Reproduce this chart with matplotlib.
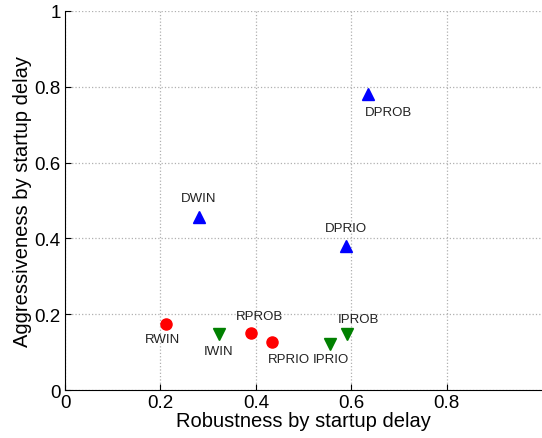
import matplotlib.pyplot as plt

plt.rcParams['font.family'] = ['Liberation Sans', 'DejaVu Sans']

d_names = ['DPROB', 'DWIN', 'DPRIO']
d_x = [0.635, 0.28, 0.589]
d_y = [0.781, 0.456, 0.38]

r_names = ['RWIN', 'RPROB', 'RPRIO']
r_x = [0.211, 0.39, 0.434]
r_y = [0.174, 0.151, 0.126]

i_names = ['IWIN', 'IPRIO', 'IPROB']
i_x = [0.322, 0.555, 0.591]
i_y = [0.148, 0.122, 0.148]

# label offsets in points (dx, dy)
offsets = {
    'DPROB': (15, -13), 'DWIN': (0, 14), 'DPRIO': (0, 13),
    'RWIN': (-2, -11), 'RPROB': (6, 12), 'RPRIO': (12, -12),
    'IWIN': (0, -12), 'IPRIO': (1, -11), 'IPROB': (8, 11),
}

fig = plt.figure(figsize=(5.42, 4.39), dpi=100)
ax = fig.add_axes([0.12, 0.109, 0.88, 0.864])

ax.plot(d_x, d_y, '^', color='blue', markersize=9, linestyle='none')
ax.plot(r_x, r_y, 'o', color='red', markersize=8, linestyle='none')
ax.plot(i_x, i_y, 'v', color='green', markersize=9, linestyle='none')

for names, xs, ys in [(d_names, d_x, d_y), (r_names, r_x, r_y), (i_names, i_x, i_y)]:
    for n, x, y in zip(names, xs, ys):
        ax.annotate(n, (x, y), xytext=offsets[n], textcoords='offset points',
                    ha='center', va='center', fontsize=9.5, color='#222222')

ax.set_xlim(0, 1)
ax.set_ylim(0, 1)
ax.set_xticks([0, 0.2, 0.4, 0.6, 0.8])
ax.set_xticklabels(['0', '0.2', '0.4', '0.6', '0.8'])
ax.set_yticks([0, 0.2, 0.4, 0.6, 0.8, 1])
ax.set_yticklabels(['0', '0.2', '0.4', '0.6', '0.8', '1'])
ax.tick_params(direction='in', labelsize=13.5, length=4, pad=3)
ax.spines['top'].set_visible(False)
ax.spines['right'].set_visible(False)
ax.grid(True, linestyle=':', color='#b0b0b0', linewidth=0.9)
ax.set_axisbelow(True)

ax.set_xlabel('Robustness by startup delay', fontsize=14.5, labelpad=0)
ax.set_ylabel('Aggressiveness by startup delay', fontsize=14.5, labelpad=2)

fig.savefig('out.png', dpi=100)
